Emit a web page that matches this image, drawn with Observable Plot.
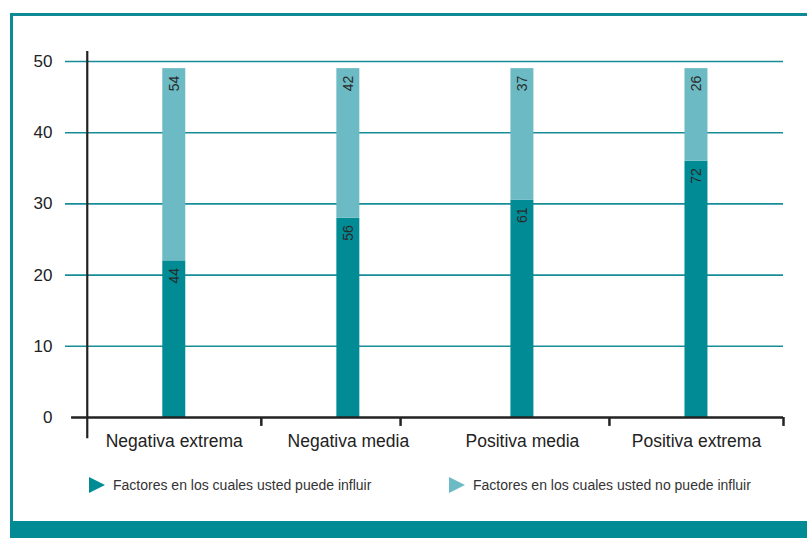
<!DOCTYPE html>
<html><head><meta charset="utf-8">
<script src="https://cdn.jsdelivr.net/npm/d3@7"></script>
<script src="https://cdn.jsdelivr.net/npm/@observablehq/plot@0.6"></script>
<style>
body{margin:0;background:#fff;font-family:"Liberation Sans",Arial,sans-serif;}
#wrap{position:relative;width:807px;height:538px;overflow:hidden;background:#fff;}
#chart{position:absolute;left:0;top:0;}
#frame{position:absolute;left:10px;top:13px;width:830px;height:540px;border-left:3px solid #0d8a94;border-top:3px solid #0d8a94;box-sizing:border-box;}
#band{position:absolute;left:10px;top:521px;width:820px;height:17px;background:#008b95;}
#legend{position:absolute;left:0;top:476px;width:807px;height:17px;}
.item{position:absolute;top:0;height:17px;display:flex;align-items:center;font-size:14px;color:#333;white-space:nowrap;}
.tri{width:0;height:0;border-top:8.5px solid transparent;border-bottom:8.5px solid transparent;border-left-width:16px;border-left-style:solid;margin-right:8px;}
</style></head>
<body><div id="wrap"><div id="chart"></div><div id="legend"></div><div id="frame"></div><div id="band"></div></div>
<script>
const categories = ["Negativa extrema", "Negativa media", "Positiva media", "Positiva extrema"];
const seriesNames = ["Factores en los cuales usted puede influir", "Factores en los cuales usted no puede influir"];
const puedeInfluir = [44, 56, 61, 72];
const noPuedeInfluir = [54, 42, 37, 26];
const yTickLabels = [0, 10, 20, 30, 40, 50];
const categoryDividers = [1.5, 2.3, 3.5, 4.5];

const colors = ["#008b95", "#6cbac4"];
const rows = [];
categories.forEach((c, i) => {
  rows.push({pos: i + 1, category: c, series: seriesNames[0], value: puedeInfluir[i]});
  rows.push({pos: i + 1, category: c, series: seriesNames[1], value: noPuedeInfluir[i]});
});
const barHalf = 0.066;
const xMin = 0.375, xMax = 4.5;
const yTicks = yTickLabels.map(v => v * 2);

const chart = Plot.plot({
  width: 807, height: 470,
  marginLeft: 65, marginRight: 24, marginTop: 61, marginBottom: 53,
  style: {fontFamily: "Liberation Sans, Arial, sans-serif", background: "transparent", color: "#222", overflow: "visible"},
  x: {type: "linear", domain: [xMin, xMax], axis: null},
  y: {domain: [0, 100], axis: null},
  color: {domain: seriesNames, range: colors},
  marks: [
    Plot.ruleY(yTicks.filter(v => v > 0), {x1: xMin, x2: xMax, stroke: "#178d98", strokeWidth: 1.6}),
    Plot.rectY(rows, Plot.stackY({x1: d => d.pos - barHalf, x2: d => d.pos + barHalf, y: "value", fill: "series"})),
    Plot.text(rows, Plot.stackY2({x: "pos", y: "value", z: "series", text: "value", rotate: -90, textAnchor: "end", dy: 7, fontSize: 14, fill: "#2a2a2a"})),
    Plot.ruleY([0], {x1: 0.41, x2: xMax, stroke: "#222", strokeWidth: 2.5}),
    Plot.ruleX([0.5], {y1: -6, y2: 102.8, stroke: "#222", strokeWidth: 2.2}),
    Plot.ruleX(categoryDividers, {y1: 0, y2: -2.5, stroke: "#222", strokeWidth: 2.5}),
    Plot.axisY(yTicks, {tickFormat: d => d / 2, tickSize: 0, tickPadding: 13, fontSize: 17, label: null}),
    Plot.axisX([1, 2, 3, 4], {tickFormat: d => categories[d - 1], tickSize: 0, tickPadding: 17, fontSize: 17.5, label: null})
  ]
});
document.getElementById("chart").appendChild(chart);

const legend = document.getElementById("legend");
const legendLeft = [89, 449];
seriesNames.forEach((name, i) => {
  const item = document.createElement("div");
  item.className = "item";
  item.style.left = legendLeft[i] + "px";
  const tri = document.createElement("span");
  tri.className = "tri";
  tri.style.borderLeftColor = colors[i];
  const label = document.createElement("span");
  label.textContent = name;
  item.appendChild(tri);
  item.appendChild(label);
  legend.appendChild(item);
});
</script>
</body></html>
